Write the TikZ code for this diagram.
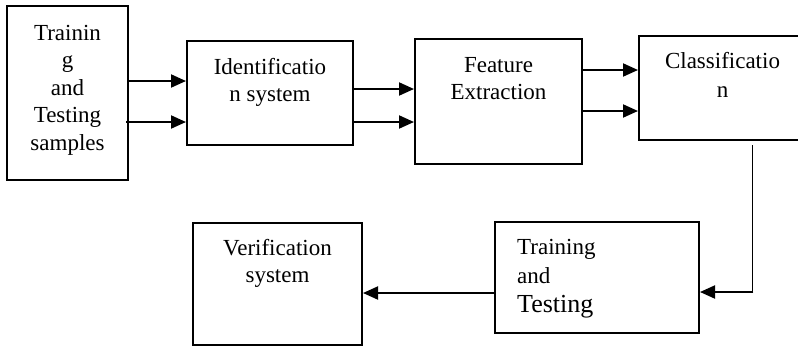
\documentclass[tikz,border=0pt]{standalone}
\usepackage{fontspec}
\setmainfont{Liberation Serif}
\usetikzlibrary{arrows.meta}
\tikzset{
  box/.style={draw, line width=2pt, inner sep=0pt},
  txt/.style={inner sep=0pt, anchor=base, font=\fontsize{23}{27}\selectfont},
  arr/.style={line width=2pt, -{Triangle[length=15pt,width=13pt]}},
  thinlink/.style={line width=1.3pt}
}
\begin{document}
\begin{tikzpicture}[x=1pt,y=-1pt]
\useasboundingbox (0,0) rectangle (798,349);

% process blocks
\node[box, minimum width=121pt, minimum height=174pt] (b1) at (67.5,93) {};
\node[box, minimum width=166pt, minimum height=104pt] (b2) at (270,93) {};
\node[box, minimum width=167pt, minimum height=125pt] (b3) at (498.5,101.5) {};
\node[box, minimum width=167pt, minimum height=104pt] (b4) at (722.5,88) {};
\node[box, minimum width=204pt, minimum height=111pt] (b5) at (597,277.5) {};
\node[box, minimum width=169pt, minimum height=122pt] (b6) at (277.5,284) {};

% block labels
\node[txt] (t1a) at (67.5,40) {Trainin};
\node[txt] (t1b) at (67.5,67) {g};
\node[txt] (t1c) at (67.5,95) {and};
\node[txt] (t1d) at (67.5,122) {Testing};
\node[txt] (t1e) at (67.5,150) {samples};

\node[txt] (t2a) at (270,74) {Identificatio};
\node[txt] (t2b) at (270,101) {n system};

\node[txt] (t3a) at (498.5,72) {Feature};
\node[txt] (t3b) at (498.5,99) {Extraction};

\node[txt] (t4a) at (722.5,68) {Classificatio};
\node[txt] (t4b) at (722.5,97) {n};

\node[txt, anchor=base west] (t5a) at (517,254) {Training};
\node[txt, anchor=base west] (t5b) at (517,283) {and};
\node[txt, anchor=base west, font=\fontsize{26}{30}\selectfont] (t5c) at (517,312) {Testing};

\node[txt] (t6a) at (277.5,255) {Verification};
\node[txt] (t6b) at (277.5,282) {system};

% forward flow
\draw[arr] (b1.east |- 0,81) -- (b2.west |- 0,81);
\draw[arr] ([xshift=-3pt]b1.east |- 0,122) -- (b2.west |- 0,122);
\draw[arr] (b2.east |- 0,89) -- (b3.west |- 0,89);
\draw[arr] ([xshift=-2pt]b2.east |- 0,122) -- (b3.west |- 0,122);
\draw[arr] (b3.east |- 0,70) -- (b4.west |- 0,70);
\draw[arr] ([xshift=-2pt]b3.east |- 0,111) -- (b4.west |- 0,111);

% return path
\coordinate (c1) at (752.7,145);
\coordinate (c2) at (752.7,292);
\draw[thinlink] (c1) -- (c2);
\draw[arr] ([xshift=0.6pt]c2) -- (b5.east |- c2);
\draw[arr] (b5.west |- 0,293) -- (b6.east |- 0,293);
\end{tikzpicture}
\end{document}
